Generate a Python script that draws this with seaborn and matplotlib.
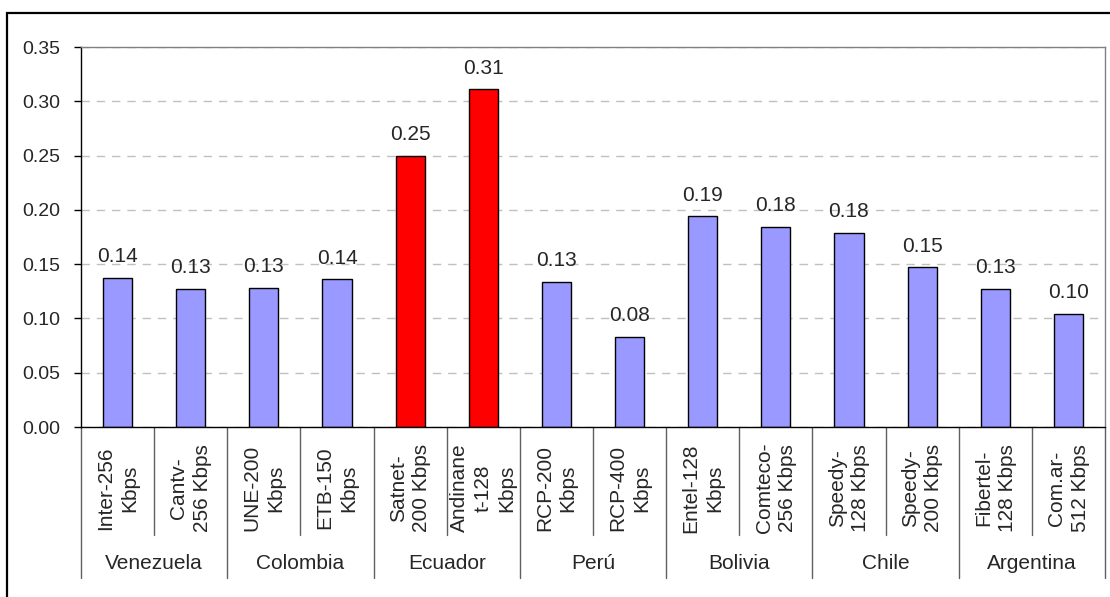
import pandas as pd
import matplotlib.pyplot as plt
import matplotlib.transforms as mtransforms
from matplotlib.patches import Rectangle
import seaborn as sns

# Data
products = ["Inter-256\nKbps", "Cantv-\n256 Kbps", "UNE-200\nKbps", "ETB-150\nKbps",
            "Satnet-\n200 Kbps", "Andinane\nt-128\nKbps", "RCP-200\nKbps", "RCP-400\nKbps",
            "Entel-128\nKbps", "Comteco-\n256 Kbps", "Speedy-\n128 Kbps", "Speedy-\n200 Kbps",
            "Fibertel-\n128 Kbps", "Com.ar-\n512 Kbps"]
values = [0.137, 0.127, 0.128, 0.136, 0.250, 0.311, 0.134, 0.083,
          0.194, 0.184, 0.179, 0.147, 0.127, 0.104]
countries = ["Venezuela", "Colombia", "Ecuador", "Perú", "Bolivia", "Chile", "Argentina"]
bars_per_country = [2, 2, 2, 2, 2, 2, 2]
bar_colors = ["#9999FF"] * 4 + ["#FF0000"] * 2 + ["#9999FF"] * 8
y_ticks = [0.00, 0.05, 0.10, 0.15, 0.20, 0.25, 0.30, 0.35]

sns.set_style("white")
plt.rcParams['font.family'] = ['Liberation Sans', 'DejaVu Sans']
plt.rcParams['font.size'] = 15

df = pd.DataFrame({"producto": products, "valor": values})

W, H = 1110, 597
fig = plt.figure(figsize=(W / 100, H / 100), dpi=100)
ax = fig.add_axes([81 / W, 1 - 427 / H, (1105 - 81) / W, 380 / H])

sns.barplot(data=df, x="producto", y="valor", hue="producto", palette=bar_colors,
            legend=False, width=0.4, saturation=1, edgecolor="black", linewidth=1, ax=ax)

for cont in ax.containers:
    ax.bar_label(cont, fmt="%.2f", padding=8.5, fontsize=15)

ax.set_ylim(0, 0.35)
ax.set_xlim(-0.5, len(products) - 0.5)
ax.set_yticks(y_ticks)
ax.set_yticklabels([f"{t:.2f}" for t in y_ticks], fontsize=14)
ax.set_xlabel("")
ax.set_ylabel("")
ax.tick_params(axis="y", length=5, width=1, pad=10, color="black", left=True)
ax.tick_params(axis="x", length=0, labelbottom=False)
ax.yaxis.grid(True, linestyle=(0, (6, 5)), color="#c0c0c0", linewidth=1)
ax.set_axisbelow(True)

for side in ["left", "bottom"]:
    ax.spines[side].set_color("black")
    ax.spines[side].set_linewidth(1)
for side in ["top", "right"]:
    ax.spines[side].set_color("#808080")
    ax.spines[side].set_linewidth(1)

# two-level category axis
trans = mtransforms.blended_transform_factory(ax.transData, ax.transAxes)
bounds = [0]
for n in bars_per_country:
    bounds.append(bounds[-1] + n)

for i in range(len(products) + 1):
    x = i - 0.5
    low = -0.397 if i in bounds else -0.284
    ax.plot([x, x], [0, low], transform=trans, color="#606060", lw=1, clip_on=False)

for i, lab in enumerate(products):
    ax.text(i, -0.161, lab, rotation=90, ha="center", va="center",
            multialignment="center", linespacing=1.3, transform=trans)

for k, c in enumerate(countries):
    mid = (bounds[k] + bounds[k + 1] - 1) / 2
    ax.text(mid, -0.358, c, ha="center", va="center", transform=trans)

# outer chart frame
fig.patches.append(Rectangle((7 / W, -0.1), 1.2, (1 - 13 / H) + 0.1,
                             transform=fig.transFigure, fill=False,
                             edgecolor="black", linewidth=1.6))

plt.savefig("out.png", dpi=100)
